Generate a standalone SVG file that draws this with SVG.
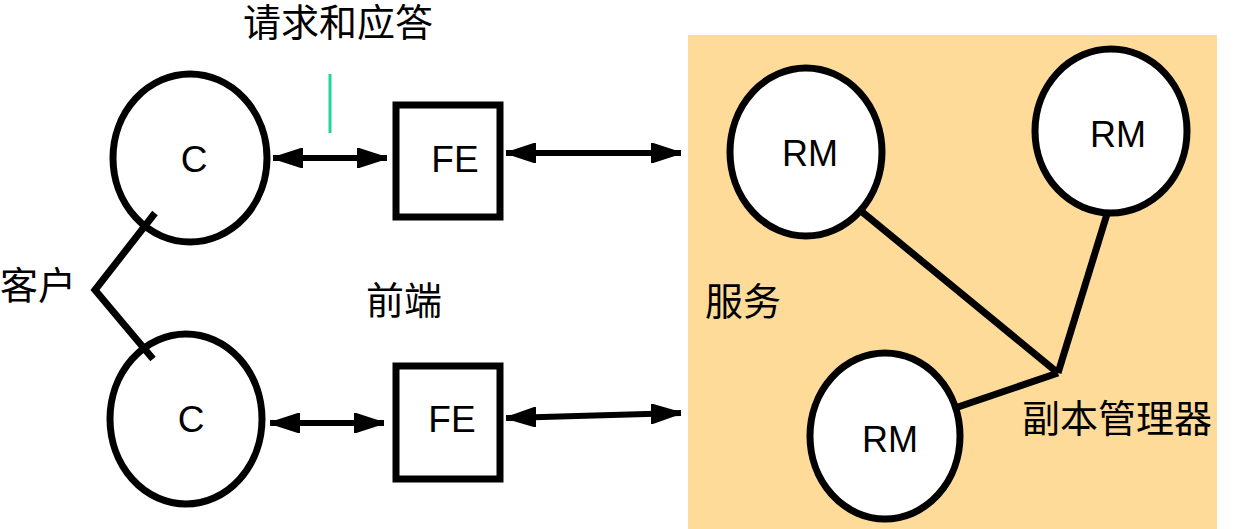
<svg xmlns="http://www.w3.org/2000/svg" width="1234" height="529" viewBox="0 0 1234 529">
<style>
.node{fill:#fff;stroke:#000;stroke-width:7}
.lbl{font-family:"Liberation Sans",Arial,sans-serif;font-size:37px;fill:#000;text-anchor:middle}
.cn{font-family:"Liberation Serif","Noto Sans CJK SC",serif;font-size:38px;fill:#000}
.ln{stroke:#000;stroke-width:7;fill:none}
.arr{stroke:#000;stroke-width:6;fill:none;marker-start:url(#ah);marker-end:url(#ah)}
</style>
<defs>
<marker id="ah" viewBox="0 0 5 3.4" refX="5" refY="1.7" markerWidth="5" markerHeight="3.4" orient="auto-start-reverse" markerUnits="strokeWidth">
<path d="M0.1,0.1 L5,1.7 L0.1,3.3 z" fill="#000" stroke="#000" stroke-width="0.3" stroke-linejoin="round"/>
</marker>
</defs>
<rect x="688" y="35" width="529" height="494" fill="#fedb98"/>
<g id="c1"><ellipse class="node" cx="190" cy="158" rx="77" ry="84"/><text class="lbl" x="194" y="172">C</text></g>
<g id="c2"><ellipse class="node" cx="186" cy="419" rx="76" ry="85"/><text class="lbl" x="191" y="432">C</text></g>
<g id="fe1"><rect class="node" x="396" y="105" width="104" height="112"/><text class="lbl" x="455" y="172">FE</text></g>
<g id="fe2"><rect class="node" x="396" y="366" width="104" height="113"/><text class="lbl" x="452" y="432">FE</text></g>
<g id="rm1"><ellipse class="node" cx="806" cy="152" rx="76" ry="84"/><text class="lbl" x="810" y="166" style="font-size:36px">RM</text></g>
<g id="rm2"><ellipse class="node" cx="1111" cy="131" rx="76" ry="82"/><text class="lbl" x="1118" y="147" style="font-size:36px">RM</text></g>
<g id="rm3"><ellipse class="node" cx="885" cy="436" rx="75" ry="83"/><text class="lbl" x="890" y="452" style="font-size:36px">RM</text></g>
<g id="connectors">
<path class="arr" d="M273,158 L387,158"/>
<path class="arr" d="M506,153 L681,153"/>
<path class="arr" d="M270,423 L384,423"/>
<path class="arr" d="M506,418 L681,413"/>
<path class="ln" d="M155,213 L95,290 L153,359"/>
<path class="ln" d="M861,211 L1058,373"/>
<path class="ln" d="M1107,214 L1058,373"/>
<path class="ln" d="M958,407 L1058,373"/>
<line x1="330" y1="74" x2="330" y2="133" stroke="#22d39b" stroke-width="3"/>
</g>
<g id="labels">
<text class="cn" x="243" y="36">请求和应答</text>
<text class="cn" x="0" y="299">客户</text>
<text class="cn" x="366" y="314">前端</text>
<text class="cn" x="705" y="315">服务</text>
<text class="cn" x="1022" y="432">副本管理器</text>
</g>
</svg>
